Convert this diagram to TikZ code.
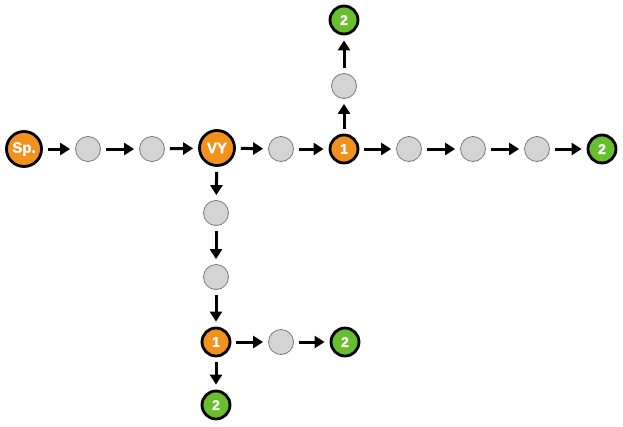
\documentclass[tikz,border=0pt]{standalone}
\usepackage{fontspec}
\setmainfont{Liberation Sans}
\newfontfamily\heavyfont[BoldFeatures={FakeBold=1.6}]{Liberation Sans}
\usetikzlibrary{arrows.meta}
\definecolor{orng}{RGB}{242,146,30}
\definecolor{grn}{RGB}{104,190,44}
\definecolor{gfill}{RGB}{212,212,212}
\definecolor{gline}{RGB}{120,120,120}
\tikzset{
  bignode/.style={circle, draw=black, line width=2.8pt, fill=orng, minimum size=35pt, inner sep=0pt, text=white, font=\heavyfont\bfseries\fontsize{15}{15}\selectfont},
  onenode/.style={circle, draw=black, line width=2.8pt, fill=orng, minimum size=28pt, inner sep=0pt, text=white, font=\heavyfont\bfseries\fontsize{14}{14}\selectfont},
  twonode/.style={circle, draw=black, line width=2.8pt, fill=grn, minimum size=28pt, inner sep=0pt, text=white, font=\heavyfont\bfseries\fontsize{14}{14}\selectfont},
  graynode/.style={circle, draw=gline, line width=0.8pt, fill=gfill, minimum size=25pt, inner sep=0pt},
  arr/.style={line width=3pt, -{Triangle[length=10pt,width=12pt]}, shorten <=5pt, shorten >=5pt}
}
\begin{document}
\begin{tikzpicture}[x=1pt,y=-1pt]
\useasboundingbox (0,0) rectangle (623,426);
\fill[white] (0,0) rectangle (623,426);
% main row
\node[bignode] (sp) at (24,149) {Sp.};
\node[graynode] (g1) at (88,149) {};
\node[graynode] (g2) at (152,149) {};
\node[bignode] (vy) at (217,148) {VY};
\node[graynode] (g3) at (281,149) {};
\node[onenode] (o1) at (344,149) {1};
\node[graynode] (g4) at (409,149) {};
\node[graynode] (g5) at (473,149) {};
\node[graynode] (g6) at (537,149) {};
\node[twonode] (t1) at (602,149) {2};
% up branch
\node[graynode] (gu) at (344,86) {};
\node[twonode] (tu) at (344,20) {2};
% down branch
\node[graynode] (gd1) at (216,213) {};
\node[graynode] (gd2) at (216,277) {};
\node[onenode] (o2) at (216,342) {1};
\node[twonode] (t2) at (216,405) {2};
\node[graynode] (gr) at (281,342) {};
\node[twonode] (t3) at (345,342) {2};
% arrows
\draw[arr] (sp) -- (g1);
\draw[arr] (g1) -- (g2);
\draw[arr] (g2) -- (vy);
\draw[arr] (vy) -- (g3);
\draw[arr] (g3) -- (o1);
\draw[arr] (o1) -- (g4);
\draw[arr] (g4) -- (g5);
\draw[arr] (g5) -- (g6);
\draw[arr] (g6) -- (t1);
\draw[arr] (o1) -- (gu);
\draw[arr] (gu) -- (tu);
\draw[arr] (vy) -- (gd1);
\draw[arr] (gd1) -- (gd2);
\draw[arr] (gd2) -- (o2);
\draw[arr] (o2) -- (t2);
\draw[arr] (o2) -- (gr);
\draw[arr] (gr) -- (t3);
\end{tikzpicture}
\end{document}
